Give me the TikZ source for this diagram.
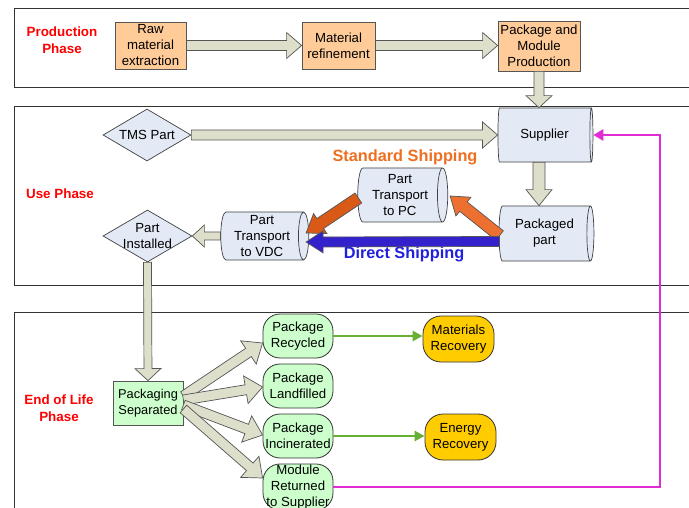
\documentclass[tikz,border=0pt]{standalone}
\usepackage{fontspec}
\setmainfont{Liberation Sans}
\usetikzlibrary{shapes.geometric,shapes.misc,calc,arrows.meta}
\definecolor{prodfill}{HTML}{FFCC99}
\definecolor{cylfill}{HTML}{E3E9F5}
\definecolor{eolfill}{HTML}{CCFFCC}
\definecolor{recfill}{HTML}{FFCC00}
\definecolor{blkfill}{HTML}{DDDFCB}
\definecolor{edge}{HTML}{555555}
\definecolor{orangeA}{HTML}{EE7030}
\definecolor{orangeB}{HTML}{D85A16}
\definecolor{shipblue}{HTML}{3322CC}
\definecolor{stdtxt}{HTML}{EE6F1F}
\definecolor{dirtxt}{HTML}{2020DD}
\definecolor{magline}{HTML}{E02ED0}
\definecolor{greenline}{HTML}{66B035}
% block arrow: [opts]{from}{to}{half shaft}{half head}{head length}
\newcommand\blockarr[6][]{%
  \coordinate (bac) at ($(#3)!#6pt!(#2)$);
  \draw[blockarrow,#1] ($(#2)!#4pt!90:(#3)$) -- ($(bac)!#4pt!90:(#3)$) -- ($(bac)!#5pt!90:(#3)$) -- (#3)
     -- ($(bac)!#5pt!-90:(#3)$) -- ($(bac)!#4pt!-90:(#3)$) -- ($(#2)!#4pt!-90:(#3)$) -- cycle;
}
\tikzset{
  every node/.style={font=\fontsize{13.2}{16}\selectfont, align=center, inner sep=0pt},
  phase/.style={draw=black!80, line width=0.8pt},
  phaselbl/.style={text=red, font=\fontsize{13.4}{16.5}\selectfont\bfseries},
  prodbox/.style={draw=edge, fill=prodfill, line width=0.8pt},
  cyl/.style={cylinder, shape border rotate=0, aspect=0.25, draw=black!75, fill=cylfill, line width=0.7pt},
  dia/.style={diamond, draw=black!75, fill=cylfill, line width=0.7pt},
  sepbox/.style={draw=edge, fill=eolfill, line width=0.8pt},
  eol/.style={draw=black!80, fill=eolfill, rounded corners=17pt, line width=0.8pt, minimum width=70pt, minimum height=44pt},
  recov/.style={draw=black!80, fill=recfill, rounded corners=18pt, line width=0.8pt, minimum width=71pt, minimum height=46pt},
  blockarrow/.style={draw=edge, fill=blkfill, line width=0.7pt, line join=miter},
  greenarr/.style={draw=greenline, line width=2.6pt, -{Triangle[length=10pt,width=10pt]}},
  magarr/.style={draw=magline, line width=2.6pt, -{Triangle[length=10pt,width=11pt]}},
  shiplbl/.style={font=\fontsize{16.3}{19}\selectfont\bfseries},
}
\begin{document}
\begin{tikzpicture}[x=1pt,y=-1pt]
\useasboundingbox (0,0) rectangle (689,508);
\fill[white] (0,0) rectangle (689,508);
% phase frames
\draw[phase] (14,8) rectangle (700,87);
\draw[phase] (14,106) rectangle (700,285);
\draw[phase] (14,312) rectangle (700,530);
\node[phaselbl] (pp) at (62,40) {Production\\Phase};
\node[phaselbl] (up) at (60,194) {Use Phase};
\node[phaselbl] (ep) at (59,408) {End of Life\\Phase};
% production
\node[prodbox, minimum width=71pt, minimum height=47pt] (raw) at (150.5,45.5) {Raw\\material\\extraction};
\node[prodbox, minimum width=73pt, minimum height=47pt] (mat) at (338.5,45.5) {Material\\refinement};
\node[prodbox, minimum width=82pt, minimum height=50pt] (pkg) at (539,46) {Package and\\Module\\Production};
% use phase
\node[dia, minimum width=88pt, minimum height=52pt] (tms) at (147,135) {};
\node (tmstxt) at (tms.center) {TMS Part};
\node[cyl, minimum height=95pt, minimum width=54pt] (sup) at (544.5,135) {Supplier};
\node[cyl, minimum height=95pt, minimum width=55pt] (pkd) at (544.5,233.5) {Packaged\\part};
\node[cyl, minimum height=90pt, minimum width=54pt] (pc) at (400,195) {Part\\Transport\\to PC};
\node[cyl, minimum height=88pt, minimum width=48pt] (vdc) at (262,236) {Part\\Transport\\to VDC};
\node[dia, minimum width=89pt, minimum height=52pt] (inst) at (147.5,236) {};
\node (insttxt) at (inst.center) {Part\\Installed};
\node[shiplbl, text=stdtxt] (std) at (405,157) {Standard Shipping};
\node[shiplbl, text=dirtxt] (dir) at (404,254) {Direct Shipping};
% end of life
\node[sepbox, minimum width=70pt, minimum height=44pt, font=\fontsize{12.8}{16}\selectfont] (sep) at (148,403) {Packaging\\Separated};
\node[eol] (rec) at (298,336) {Package\\Recycled};
\node[eol] (land) at (298,386) {Package\\Landfilled};
\node[eol, minimum width=70pt] (inc) at (298,436) {};
\node (inctxt) at (inc.center) {Package\\Incinerated};
\node[eol, minimum height=46pt] (ret) at (298,487) {};
\node (rettxt) at (ret.center) {Module\\Returned\\to Supplier};
\node[recov] (mrec) at (458.5,339) {Materials\\Recovery};
\node[recov] (erec) at (460.5,437) {Energy\\Recovery};
% production arrows
\blockarr{raw.east}{mat.west}{5}{13}{15}
\coordinate (m1) at (mat.east);
\coordinate (m2) at (mat.east -| pkg.west);
\blockarr{m1}{m2}{5}{13}{15}
\coordinate (s1) at (pkg.south);
\coordinate (s2) at (pkg.south |- sup.north);
\blockarr{s1}{s2}{5}{13}{12}
% use arrows
\blockarr{tms.east}{sup.west}{5}{13}{15}
\coordinate (s3) at (pkg.south |- sup.south);
\coordinate (s4) at (pkg.south |- pkd.north);
\blockarr{s3}{s4}{6}{13}{16}
\coordinate (o1) at ($(pkd.west)+(1,2)$);
\coordinate (o2) at ($(pc.east)+(2,1)$);
\blockarr[fill=orangeA, draw=edge]{o1}{o2}{6}{12}{17}
\coordinate (o3) at ($(pc.west)+(1,3)$);
\coordinate (o4) at ($(vdc.east)+(-3,-3)$);
\blockarr[fill=orangeB, draw=edge]{o3}{o4}{6}{12}{17}
\coordinate (b1) at ($(pkd.west)+(1,8)$);
\coordinate (b2) at ($(vdc.east)+(-3,6)$);
\blockarr[fill=shipblue, draw=edge]{b1}{b2}{5}{11}{17}
\blockarr{vdc.west}{inst.east}{4}{11}{12}
\blockarr{inst.south}{sep.north}{4}{13}{12}
% end of life arrows
\coordinate (f1) at ($(sep.east)+(0,-7)$);
\coordinate (f2) at ($(sep.east)+(0,-3)$);
\coordinate (f3) at ($(sep.east)+(0,2)$);
\coordinate (f4) at ($(sep.east)+(0,6)$);
\coordinate (t1) at ($(rec.west)+(0,7)$);
\coordinate (t2) at ($(land.west)+(0,1)$);
\coordinate (t3) at ($(inc.west)+(0,-1)$);
\coordinate (t4) at ($(ret.west)+(0,-9)$);
\blockarr{f1}{t1}{5}{14}{17}
\blockarr{f2}{t2}{5}{14}{17}
\blockarr{f3}{t3}{5}{14}{17}
\blockarr{f4}{t4}{5}{14}{17}
\draw[greenarr] (rec.east) -- (rec.east -| mrec.west);
\draw[greenarr] (inc.east) -- (inc.east -| erec.west);
\coordinate (mr) at (660,300);
\draw[magarr] (ret.east) -| (mr) |- (sup.east);
\end{tikzpicture}
\end{document}
